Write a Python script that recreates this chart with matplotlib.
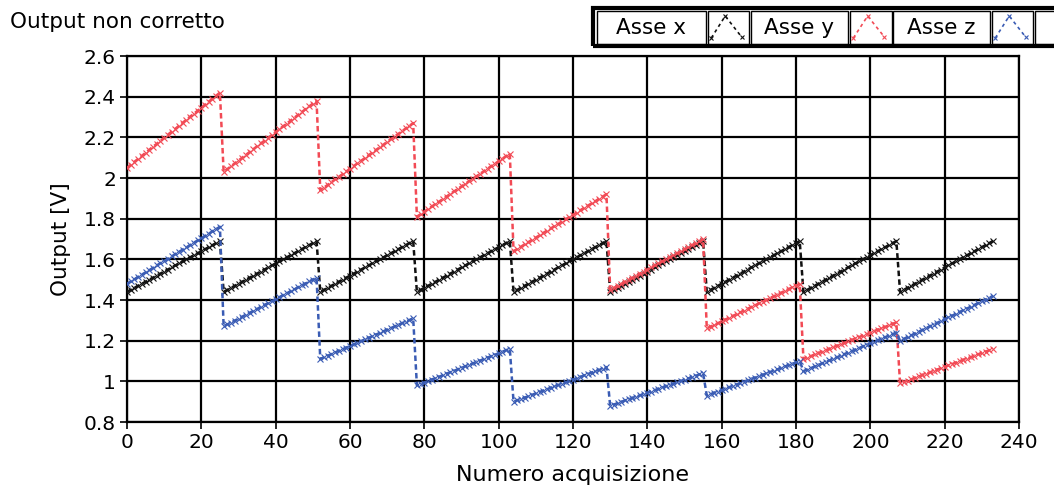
import matplotlib
matplotlib.use("Agg")
import matplotlib.pyplot as plt
import numpy as np
from matplotlib.patches import Rectangle
from matplotlib.lines import Line2D
from matplotlib.ticker import FuncFormatter

# one row = one acquisition block of 26 samples
asse_x = [
    1.44, 1.45, 1.46, 1.47, 1.48, 1.49, 1.50, 1.51, 1.52, 1.53, 1.54, 1.55, 1.56, 1.57, 1.58, 1.59, 1.60, 1.61, 1.62, 1.63, 1.64, 1.65, 1.66, 1.67, 1.68, 1.69,
    1.44, 1.45, 1.46, 1.47, 1.48, 1.49, 1.50, 1.51, 1.52, 1.53, 1.54, 1.55, 1.56, 1.57, 1.58, 1.59, 1.60, 1.61, 1.62, 1.63, 1.64, 1.65, 1.66, 1.67, 1.68, 1.69,
    1.44, 1.45, 1.46, 1.47, 1.48, 1.49, 1.50, 1.51, 1.52, 1.53, 1.54, 1.55, 1.56, 1.57, 1.58, 1.59, 1.60, 1.61, 1.62, 1.63, 1.64, 1.65, 1.66, 1.67, 1.68, 1.69,
    1.44, 1.45, 1.46, 1.47, 1.48, 1.49, 1.50, 1.51, 1.52, 1.53, 1.54, 1.55, 1.56, 1.57, 1.58, 1.59, 1.60, 1.61, 1.62, 1.63, 1.64, 1.65, 1.66, 1.67, 1.68, 1.69,
    1.44, 1.45, 1.46, 1.47, 1.48, 1.49, 1.50, 1.51, 1.52, 1.53, 1.54, 1.55, 1.56, 1.57, 1.58, 1.59, 1.60, 1.61, 1.62, 1.63, 1.64, 1.65, 1.66, 1.67, 1.68, 1.69,
    1.44, 1.45, 1.46, 1.47, 1.48, 1.49, 1.50, 1.51, 1.52, 1.53, 1.54, 1.55, 1.56, 1.57, 1.58, 1.59, 1.60, 1.61, 1.62, 1.63, 1.64, 1.65, 1.66, 1.67, 1.68, 1.69,
    1.44, 1.45, 1.46, 1.47, 1.48, 1.49, 1.50, 1.51, 1.52, 1.53, 1.54, 1.55, 1.56, 1.57, 1.58, 1.59, 1.60, 1.61, 1.62, 1.63, 1.64, 1.65, 1.66, 1.67, 1.68, 1.69,
    1.44, 1.45, 1.46, 1.47, 1.48, 1.49, 1.50, 1.51, 1.52, 1.53, 1.54, 1.55, 1.56, 1.57, 1.58, 1.59, 1.60, 1.61, 1.62, 1.63, 1.64, 1.65, 1.66, 1.67, 1.68, 1.69,
    1.44, 1.45, 1.46, 1.47, 1.48, 1.49, 1.50, 1.51, 1.52, 1.53, 1.54, 1.55, 1.56, 1.57, 1.58, 1.59, 1.60, 1.61, 1.62, 1.63, 1.64, 1.65, 1.66, 1.67, 1.68, 1.69,
]

asse_y = [
    2.050, 2.065, 2.080, 2.094, 2.109, 2.124, 2.139, 2.154, 2.168, 2.183, 2.198, 2.213, 2.228, 2.242, 2.257, 2.272, 2.287, 2.302, 2.316, 2.331, 2.346, 2.361, 2.376, 2.390, 2.405, 2.420,
    2.030, 2.044, 2.058, 2.072, 2.086, 2.100, 2.114, 2.128, 2.142, 2.156, 2.170, 2.184, 2.198, 2.212, 2.226, 2.240, 2.254, 2.268, 2.282, 2.296, 2.310, 2.324, 2.338, 2.352, 2.366, 2.380,
    1.940, 1.953, 1.966, 1.980, 1.993, 2.006, 2.019, 2.032, 2.046, 2.059, 2.072, 2.085, 2.098, 2.112, 2.125, 2.138, 2.151, 2.164, 2.178, 2.191, 2.204, 2.217, 2.230, 2.244, 2.257, 2.270,
    1.810, 1.822, 1.835, 1.847, 1.860, 1.872, 1.884, 1.897, 1.909, 1.922, 1.934, 1.946, 1.959, 1.971, 1.984, 1.996, 2.008, 2.021, 2.033, 2.046, 2.058, 2.070, 2.083, 2.095, 2.108, 2.120,
    1.640, 1.651, 1.662, 1.674, 1.685, 1.696, 1.707, 1.718, 1.730, 1.741, 1.752, 1.763, 1.774, 1.786, 1.797, 1.808, 1.819, 1.830, 1.842, 1.853, 1.864, 1.875, 1.886, 1.898, 1.909, 1.920,
    1.450, 1.460, 1.470, 1.480, 1.490, 1.500, 1.510, 1.520, 1.530, 1.540, 1.550, 1.560, 1.570, 1.580, 1.590, 1.600, 1.610, 1.620, 1.630, 1.640, 1.650, 1.660, 1.670, 1.680, 1.690, 1.700,
    1.260, 1.269, 1.278, 1.286, 1.295, 1.304, 1.313, 1.322, 1.330, 1.339, 1.348, 1.357, 1.366, 1.374, 1.383, 1.392, 1.401, 1.410, 1.418, 1.427, 1.436, 1.445, 1.454, 1.462, 1.471, 1.480,
    1.110, 1.117, 1.124, 1.132, 1.139, 1.146, 1.153, 1.160, 1.168, 1.175, 1.182, 1.189, 1.196, 1.204, 1.211, 1.218, 1.225, 1.232, 1.240, 1.247, 1.254, 1.261, 1.268, 1.276, 1.283, 1.290,
    0.990, 0.997, 1.004, 1.010, 1.017, 1.024, 1.031, 1.038, 1.044, 1.051, 1.058, 1.065, 1.072, 1.078, 1.085, 1.092, 1.099, 1.106, 1.112, 1.119, 1.126, 1.133, 1.140, 1.146, 1.153, 1.160,
]

asse_z = [
    1.480, 1.491, 1.502, 1.514, 1.525, 1.536, 1.547, 1.558, 1.570, 1.581, 1.592, 1.603, 1.614, 1.626, 1.637, 1.648, 1.659, 1.670, 1.682, 1.693, 1.704, 1.715, 1.726, 1.738, 1.749, 1.760,
    1.270, 1.280, 1.289, 1.299, 1.308, 1.318, 1.328, 1.337, 1.347, 1.356, 1.366, 1.376, 1.385, 1.395, 1.404, 1.414, 1.424, 1.433, 1.443, 1.452, 1.462, 1.472, 1.481, 1.491, 1.500, 1.510,
    1.110, 1.118, 1.126, 1.134, 1.142, 1.150, 1.158, 1.166, 1.174, 1.182, 1.190, 1.198, 1.206, 1.214, 1.222, 1.230, 1.238, 1.246, 1.254, 1.262, 1.270, 1.278, 1.286, 1.294, 1.302, 1.310,
    0.980, 0.987, 0.994, 1.002, 1.009, 1.016, 1.023, 1.030, 1.038, 1.045, 1.052, 1.059, 1.066, 1.074, 1.081, 1.088, 1.095, 1.102, 1.110, 1.117, 1.124, 1.131, 1.138, 1.146, 1.153, 1.160,
    0.900, 0.907, 0.914, 0.920, 0.927, 0.934, 0.941, 0.948, 0.954, 0.961, 0.968, 0.975, 0.982, 0.988, 0.995, 1.002, 1.009, 1.016, 1.022, 1.029, 1.036, 1.043, 1.050, 1.056, 1.063, 1.070,
    0.880, 0.886, 0.893, 0.899, 0.906, 0.912, 0.918, 0.925, 0.931, 0.938, 0.944, 0.950, 0.957, 0.963, 0.970, 0.976, 0.982, 0.989, 0.995, 1.002, 1.008, 1.014, 1.021, 1.027, 1.034, 1.040,
    0.930, 0.937, 0.944, 0.950, 0.957, 0.964, 0.971, 0.978, 0.984, 0.991, 0.998, 1.005, 1.012, 1.018, 1.025, 1.032, 1.039, 1.046, 1.052, 1.059, 1.066, 1.073, 1.080, 1.086, 1.093, 1.100,
    1.050, 1.058, 1.065, 1.073, 1.080, 1.088, 1.096, 1.103, 1.111, 1.118, 1.126, 1.134, 1.141, 1.149, 1.156, 1.164, 1.172, 1.179, 1.187, 1.194, 1.202, 1.210, 1.217, 1.225, 1.232, 1.240,
    1.200, 1.209, 1.218, 1.226, 1.235, 1.244, 1.253, 1.262, 1.270, 1.279, 1.288, 1.297, 1.306, 1.314, 1.323, 1.332, 1.341, 1.350, 1.358, 1.367, 1.376, 1.385, 1.394, 1.402, 1.411, 1.420,
]

series_names = ["Asse x", "Asse y", "Asse z"]
series_colors = ["#111111", "#f24a55", "#3a5cb4"]
x_ticks = [0, 20, 40, 60, 80, 100, 120, 140, 160, 180, 200, 220, 240]
y_ticks = [0.8, 1.0, 1.2, 1.4, 1.6, 1.8, 2.0, 2.2, 2.4, 2.6]

W, H = 1054, 490


def fx(px):
    return px / W


def fy(py):
    return 1 - py / H


fig = plt.figure(figsize=(W / 100, H / 100), dpi=100)
ax = fig.add_axes([fx(127), fy(422), fx(1019) - fx(127), fy(56) - fy(422)])

n = np.arange(len(asse_x))
for vals, col in zip([asse_x, asse_y, asse_z], series_colors):
    ax.plot(n, vals, color=col, linestyle=(0, (2.2, 1.3)), linewidth=1.8,
            marker="x", markersize=3.8, markeredgewidth=0.8, zorder=3)

ax.set_xlim(0, 240)
ax.set_ylim(0.8, 2.6)
ax.set_xticks(x_ticks)
ax.set_yticks(y_ticks)
ax.yaxis.set_major_formatter(FuncFormatter(lambda v, p: f"{v:g}"))
ax.grid(True, color="black", linewidth=1.6)
ax.set_axisbelow(True)
for s in ax.spines.values():
    s.set_linewidth(1.6)
ax.tick_params(direction="out", length=5, width=1.2, labelsize=14.5, pad=3)
ax.set_xlabel("Numero acquisizione", fontsize=16, labelpad=9)
ax.set_ylabel("Output [V]", fontsize=15.5, labelpad=9)

fig.text(fx(10), fy(22), "Output non corretto", fontsize=15.5, va="center", ha="left")

# legend drawn as boxed cells like the original instrument panel
fig.add_artist(Rectangle((fx(593), fy(46)), fx(1060) - fx(593), fy(8) - fy(46),
                         transform=fig.transFigure, fill=False, lw=3, ec="black"))
text_cells = [(597, 706), (751, 848), (893, 990)]
icon_cells = [(708, 749), (850, 892), (992, 1033)]
for name, col, (t0, t1), (i0, i1) in zip(series_names, series_colors, text_cells, icon_cells):
    fig.add_artist(Rectangle((fx(t0), fy(44)), fx(t1) - fx(t0), fy(11) - fy(44),
                             transform=fig.transFigure, fill=False, lw=1, ec="black"))
    fig.add_artist(Rectangle((fx(i0), fy(44)), fx(i1) - fx(i0), fy(11) - fy(44),
                             transform=fig.transFigure, fill=False, lw=1, ec="black"))
    fig.text(fx((t0 + t1) / 2), fy(28), name, fontsize=15.5, ha="center", va="center")
    w = i1 - i0
    xs = [fx(i0 + 0.08 * w), fx(i0 + 0.42 * w), fx(i0 + 0.82 * w)]
    ys = [fy(38), fy(16), fy(37)]
    fig.add_artist(Line2D(xs, ys, transform=fig.transFigure, color=col, lw=1.2,
                          linestyle=(0, (2, 2)), marker="x", markersize=3, markeredgewidth=0.8))
fig.add_artist(Rectangle((fx(1035), fy(44)), fx(1060) - fx(1035), fy(11) - fy(44),
                         transform=fig.transFigure, fill=False, lw=1, ec="black"))

fig.savefig("out.png", dpi=100)
